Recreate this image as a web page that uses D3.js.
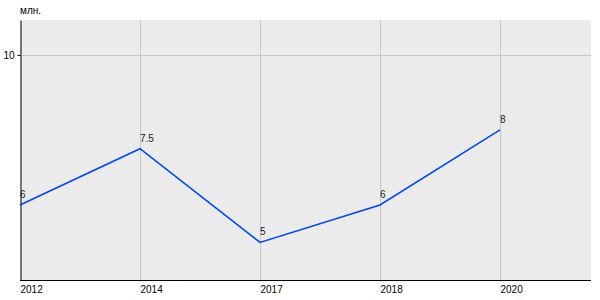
<!DOCTYPE html>
<html>
<head>
<meta charset="utf-8">
<script src="https://cdn.jsdelivr.net/npm/d3@7"></script>
<style>
  body { margin: 0; background: #fff; }
  #chart { width: 600px; height: 300px; }
  text { font-family: "Liberation Sans", Arial, sans-serif; }
</style>
</head>
<body>
<div id="chart"></div>
<script>
// Data
const years = ["2012", "2014", "2017", "2018", "2020"];
const values = [6, 7.5, 5, 6, 8];
const valueLabels = ["6", "7.5", "5", "6", "8"];
const yTicks = [10];
const unitLabel = "млн.";

// Canvas
let cvs = d3.select("#chart");
cvs.html(null);

let margin = { top: 20, right: 9, bottom: 20, left: 20 },
    width = 600,
    height = 300;

let svg = cvs.append("svg")
    .attr("width", width)
    .attr("height", height);

// Scales: points evenly spaced, last slot left empty on the right
let step = 120;
let x = d3.scalePoint()
    .domain(years)
    .range([margin.left, margin.left + step * (years.length - 1)]);

let y = d3.scaleLinear()
    .domain([4, 10.93])
    .range([height - margin.bottom, margin.top]);

// Plot background
svg.append("rect")
    .attr("x", margin.left)
    .attr("y", margin.top)
    .attr("width", width - margin.left - margin.right)
    .attr("height", height - margin.top - margin.bottom)
    .attr("fill", "#ebebeb");

// Grid lines
svg.append("g")
    .selectAll("line.vg")
    .data(years.slice(1))
    .join("line")
        .attr("x1", d => x(d) + 0.5).attr("x2", d => x(d) + 0.5)
        .attr("y1", margin.top).attr("y2", height - margin.bottom)
        .attr("stroke", "#c8c8c8");

svg.append("g")
    .selectAll("line.hg")
    .data(yTicks)
    .join("line")
        .attr("x1", margin.left).attr("x2", width - margin.right)
        .attr("y1", d => Math.round(y(d)) + 0.5).attr("y2", d => Math.round(y(d)) + 0.5)
        .attr("stroke", "#c8c8c8");

// Y axis
let yAxis = svg.append("g")
    .attr("transform", "translate(" + (margin.left + 0.5) + ",0)")
    .call(d3.axisLeft(y).tickValues(yTicks).tickFormat(d3.format("d"))
        .tickSize(3).tickSizeOuter(0).tickPadding(3));
yAxis.select(".domain").attr("stroke", "#000");
yAxis.selectAll(".tick text").style("font-size", "10px").attr("fill", "#000");

// X axis
let xAxis = svg.append("g")
    .attr("transform", "translate(0," + (height - margin.bottom + 0.5) + ")")
    .call(d3.axisBottom(x).tickSize(0).tickPadding(4));
xAxis.select(".domain")
    .attr("d", "M" + margin.left + ",0H" + (width - margin.right))
    .attr("stroke", "#000");
xAxis.selectAll(".tick text")
    .attr("text-anchor", "start")
    .attr("dy", "0.8em")
    .style("font-size", "10px")
    .attr("fill", "#000");

// Unit label
svg.append("text").text(unitLabel)
    .attr("x", margin.left)
    .attr("y", 14)
    .style("font-size", "10px")
    .attr("fill", "#000");

// Line
svg.append("path")
    .datum(values)
    .attr("fill", "none")
    .attr("stroke", "#0048f0")
    .attr("stroke-width", 1.6)
    .attr("d", d3.line()
        .x((d, i) => x(years[i]))
        .y(d => y(d)));

// Value labels
svg.append("g")
    .selectAll("text")
    .data(values)
    .join("text")
        .text((d, i) => valueLabels[i])
        .attr("x", (d, i) => x(years[i]))
        .attr("y", d => y(d) - 7)
        .style("font-size", "10px")
        .attr("fill", "#222");
</script>
</body>
</html>
